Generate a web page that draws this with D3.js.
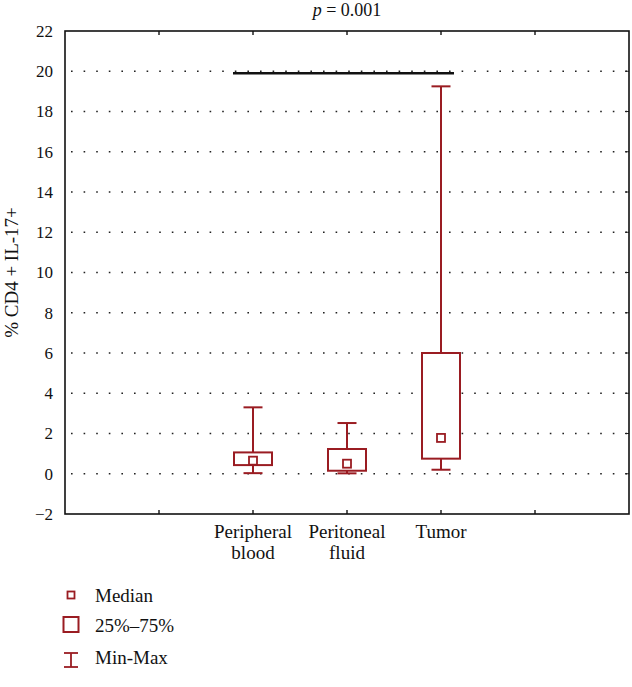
<!DOCTYPE html>
<html>
<head>
<meta charset="utf-8">
<script src="https://cdn.jsdelivr.net/npm/d3@7"></script>
<style>
  body { margin: 0; background: #fff; }
  text { font-family: "Liberation Serif", "DejaVu Serif", serif; fill: #111; }
</style>
</head>
<body>
<div id="chart"></div>
<script>
// Data
const groups = ["Peripheral blood", "Peritoneal fluid", "Tumor"];
const groupLines = [["Peripheral", "blood"], ["Peritoneal", "fluid"], ["Tumor"]];
const groupPos = [2, 3, 4];
const minVals = [0.03, 0.02, 0.2];
const q1Vals = [0.43, 0.15, 0.75];
const medVals = [0.65, 0.5, 1.78];
const q3Vals = [1.06, 1.23, 6.0];
const maxVals = [3.3, 2.52, 19.25];
const yTicks = [-2, 0, 2, 4, 6, 8, 10, 12, 14, 16, 18, 20, 22];
const gridTicks = [0, 2, 4, 6, 8, 10, 12, 14, 16, 18, 20];
const xTicks = [1, 2, 3, 4, 5];
const sigValue = 19.9;
const pText = "0.001";

const width = 632, height = 687;
const red = "#9a1c22";

const svg = d3.select("#chart").append("svg")
    .attr("width", width)
    .attr("height", height);

const x = d3.scaleLinear().domain([0, 6]).range([65, 629]);
const y = d3.scaleLinear().domain([-2, 22]).range([514, 31]);

// dotted grid
svg.append("g").selectAll("line")
    .data(gridTicks)
    .enter().append("line")
    .attr("x1", x(0) + 6).attr("x2", x(6))
    .attr("y1", d => y(d)).attr("y2", d => y(d))
    .attr("stroke", "#222")
    .attr("stroke-width", 1.6)
    .attr("stroke-dasharray", "1.6,11");

// y axis labels
const yAxis = d3.axisLeft(y).tickValues(yTicks).tickSize(0).tickPadding(12)
    .tickFormat(d => d < 0 ? "\u2212" + Math.abs(d) : d);
const ya = svg.append("g").attr("transform", "translate(" + x(0) + ",0)").call(yAxis);
ya.select(".domain").remove();
ya.selectAll("text").style("font-size", "17px").style("font-family", "Liberation Serif, serif").attr("fill", "#111");

// inward ticks on right
svg.append("g").selectAll("line")
    .data(gridTicks)
    .enter().append("line")
    .attr("x1", x(6) - 4).attr("x2", x(6))
    .attr("y1", d => y(d)).attr("y2", d => y(d))
    .attr("stroke", "#222").attr("stroke-width", 1);

// top & bottom inward ticks
svg.append("g").selectAll("line")
    .data(xTicks)
    .enter().append("line")
    .attr("x1", d => x(d)).attr("x2", d => x(d))
    .attr("y1", y(22)).attr("y2", y(22) + 4)
    .attr("stroke", "#222").attr("stroke-width", 1.5);
svg.append("g").selectAll("line")
    .data(xTicks)
    .enter().append("line")
    .attr("x1", d => x(d)).attr("x2", d => x(d))
    .attr("y1", y(-2)).attr("y2", y(-2) - 4)
    .attr("stroke", "#222").attr("stroke-width", 1.5);

// frame
svg.append("rect")
    .attr("x", x(0)).attr("y", y(22))
    .attr("width", x(6) - x(0)).attr("height", y(-2) - y(22))
    .attr("fill", "none").attr("stroke", "#111").attr("stroke-width", 1.6);

// significance line
svg.append("line")
    .attr("x1", x(2) - 20).attr("x2", x(4) + 13)
    .attr("y1", y(sigValue)).attr("y2", y(sigValue))
    .attr("stroke", "#111").attr("stroke-width", 2.6);

// boxes
const boxW = 38, capW = 19, medS = 8;
const boxes = svg.append("g").selectAll("g")
    .data(groups)
    .enter().append("g");

boxes.append("line")
    .attr("x1", (d, i) => x(groupPos[i])).attr("x2", (d, i) => x(groupPos[i]))
    .attr("y1", (d, i) => y(maxVals[i])).attr("y2", (d, i) => y(q3Vals[i]))
    .attr("stroke", red).attr("stroke-width", 2);
boxes.append("line")
    .attr("x1", (d, i) => x(groupPos[i])).attr("x2", (d, i) => x(groupPos[i]))
    .attr("y1", (d, i) => y(q1Vals[i])).attr("y2", (d, i) => y(minVals[i]))
    .attr("stroke", red).attr("stroke-width", 2);
boxes.append("line")
    .attr("x1", (d, i) => x(groupPos[i]) - capW / 2).attr("x2", (d, i) => x(groupPos[i]) + capW / 2)
    .attr("y1", (d, i) => y(maxVals[i])).attr("y2", (d, i) => y(maxVals[i]))
    .attr("stroke", red).attr("stroke-width", 2);
boxes.append("line")
    .attr("x1", (d, i) => x(groupPos[i]) - capW / 2).attr("x2", (d, i) => x(groupPos[i]) + capW / 2)
    .attr("y1", (d, i) => y(minVals[i])).attr("y2", (d, i) => y(minVals[i]))
    .attr("stroke", red).attr("stroke-width", 2);
boxes.append("rect")
    .attr("x", (d, i) => x(groupPos[i]) - boxW / 2)
    .attr("y", (d, i) => y(q3Vals[i]))
    .attr("width", boxW)
    .attr("height", (d, i) => y(q1Vals[i]) - y(q3Vals[i]))
    .attr("fill", "#fff").attr("stroke", red).attr("stroke-width", 2);
boxes.append("rect")
    .attr("x", (d, i) => x(groupPos[i]) - medS / 2)
    .attr("y", (d, i) => y(medVals[i]) - medS / 2)
    .attr("width", medS).attr("height", medS)
    .attr("fill", "#fff").attr("stroke", red).attr("stroke-width", 1.8);

// x labels
const xl = svg.append("g").selectAll("text")
    .data(groupLines)
    .enter().append("text")
    .attr("x", (d, i) => x(groupPos[i]))
    .attr("y", 538)
    .attr("text-anchor", "middle")
    .style("font-size", "19px");
xl.selectAll("tspan")
    .data(d => d)
    .enter().append("tspan")
    .attr("x", function() { return d3.select(this.parentNode).attr("x"); })
    .attr("dy", (d, j) => j === 0 ? 0 : 21)
    .text(d => d);

// title
const title = svg.append("text")
    .attr("x", x(3)).attr("y", 16)
    .attr("text-anchor", "middle")
    .style("font-size", "18px");
title.append("tspan").style("font-style", "italic").text("p");
title.append("tspan").text(" = " + pText);

// y label
svg.append("text")
    .attr("transform", "translate(18," + y(10) + ") rotate(-90)")
    .attr("text-anchor", "middle")
    .style("font-size", "19px")
    .text("% CD4 + IL-17+");

// legend
const lx = 71;
svg.append("rect").attr("x", lx - 3.5).attr("y", 591.5).attr("width", 7).attr("height", 7)
    .attr("fill", "none").attr("stroke", red).attr("stroke-width", 1.8);
svg.append("text").attr("x", 95).attr("y", 602).style("font-size", "19px").text("Median");

svg.append("rect").attr("x", lx - 7.5).attr("y", 617).attr("width", 15).attr("height", 15)
    .attr("fill", "none").attr("stroke", red).attr("stroke-width", 2);
svg.append("text").attr("x", 95).attr("y", 632).style("font-size", "19px").text("25%\u201375%");

svg.append("line").attr("x1", lx).attr("x2", lx).attr("y1", 653).attr("y2", 667)
    .attr("stroke", red).attr("stroke-width", 1.8);
svg.append("line").attr("x1", lx - 7).attr("x2", lx + 7).attr("y1", 653).attr("y2", 653)
    .attr("stroke", red).attr("stroke-width", 1.8);
svg.append("line").attr("x1", lx - 7).attr("x2", lx + 7).attr("y1", 667).attr("y2", 667)
    .attr("stroke", red).attr("stroke-width", 1.8);
svg.append("text").attr("x", 95).attr("y", 664).style("font-size", "19px").text("Min-Max");
</script>
</body>
</html>
